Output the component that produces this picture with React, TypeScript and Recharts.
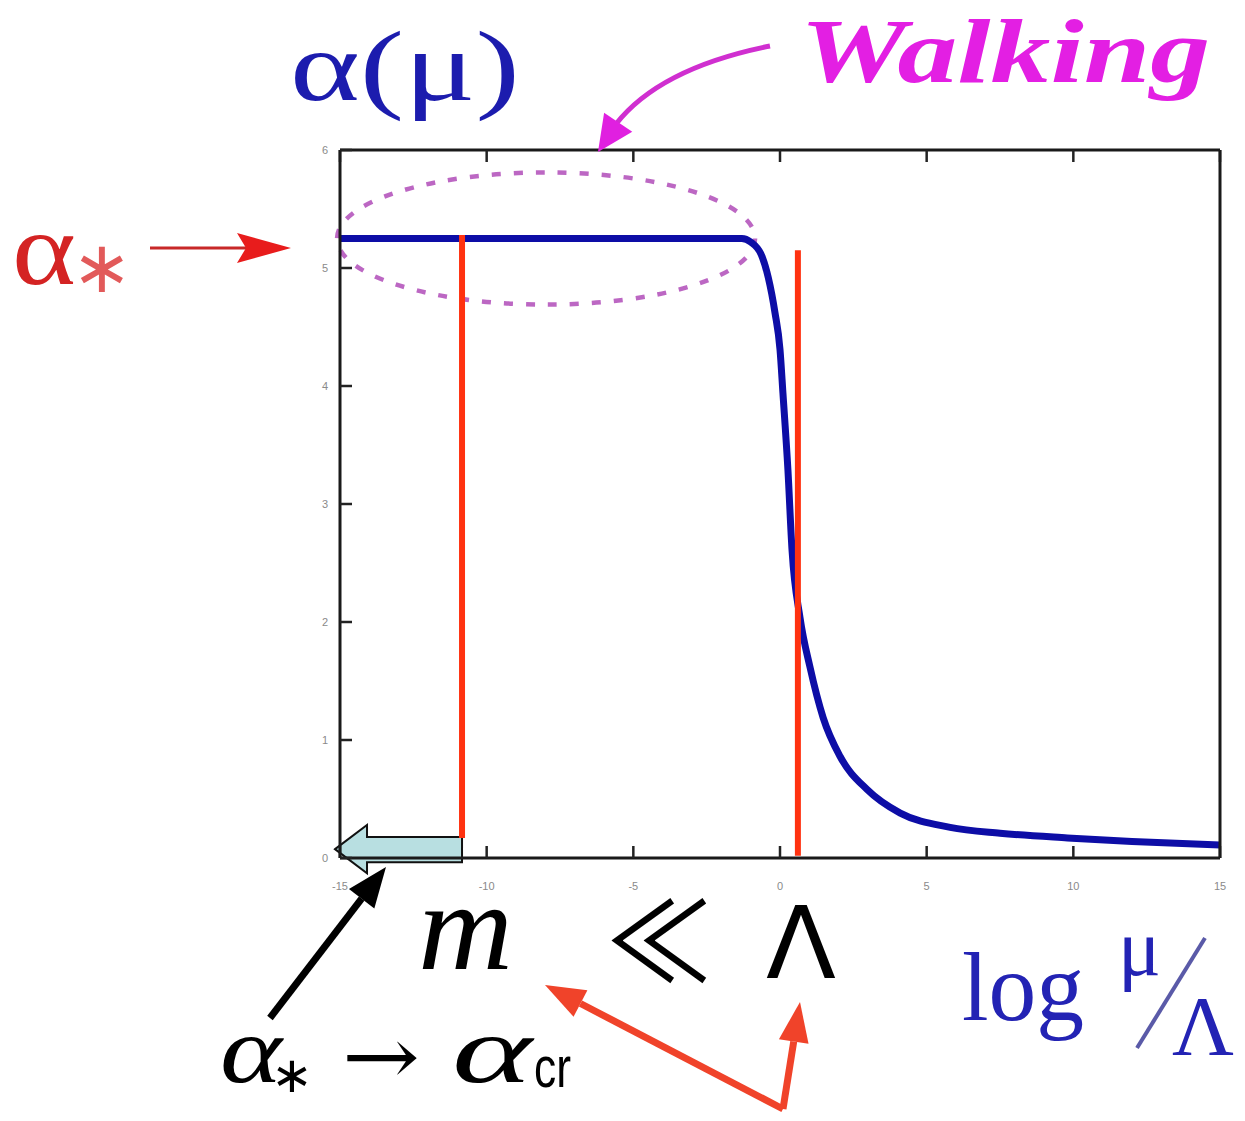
import { Line, LineChart, ReferenceArea, ReferenceLine, XAxis, YAxis } from 'recharts';

// running coupling vs log(mu/Lambda)
const logMu = [-15, -10, -5, -2, -1.3, -1.0, -0.6, -0.4, -0.17, 0, 0.1, 0.27, 0.41, 0.68, 1.02, 1.47, 2.05, 2.97, 4.1, 5.8, 7.5, 9.8, 12, 15];
const alphaMu = [5.25, 5.25, 5.25, 5.25, 5.25, 5.22, 5.09, 4.92, 4.62, 4.31, 3.94, 3.29, 2.61, 2.04, 1.62, 1.19, 0.86, 0.58, 0.38, 0.26, 0.21, 0.17, 0.14, 0.11];

const xTicks = [-15, -10, -5, 0, 5, 10, 15];
const yTicks = [0, 1, 2, 3, 4, 5, 6];

// the two scales: m and Lambda
const mScale = { x: -10.84, top: 5.28, bottom: 0.17 };
const lambdaScale = { x: 0.61, top: 5.15, bottom: 0.02 };

// walking region outline and the "alpha* -> alpha_cr" shift arrow
const walkingBox = { x1: -15.1, x2: -0.85, y1: 4.69, y2: 5.81 };
const shiftArrow = { x1: -15.17, x2: -10.84, y1: -0.13, y2: 0.28 };

const curve = logMu.map((x, i) => ({ x, alpha: alphaMu[i] }));

const W = 1245;
const H = 1121;

function headPoints(x0: number, y0: number, x1: number, y1: number, len: number, half: number) {
  const d = Math.hypot(x1 - x0, y1 - y0);
  const ux = (x1 - x0) / d;
  const uy = (y1 - y0) / d;
  const bx = x1 - ux * len;
  const by = y1 - uy * len;
  return {
    base: [bx, by],
    pts: `${x1},${y1} ${bx - uy * half},${by + ux * half} ${bx + uy * half},${by - ux * half}`,
  };
}

function Arrow({ from, to, color, width, len, half }: { from: number[]; to: number[]; color: string; width: number; len: number; half: number }) {
  const h = headPoints(from[0], from[1], to[0], to[1], len, half);
  return (
    <g>
      <line x1={from[0]} y1={from[1]} x2={h.base[0]} y2={h.base[1]} stroke={color} strokeWidth={width} />
      <polygon points={h.pts} fill={color} />
    </g>
  );
}

function EllipseShape(props: any) {
  const { x, y, width, height } = props;
  return (
    <ellipse
      cx={x + width / 2}
      cy={y + height / 2}
      rx={width / 2}
      ry={height / 2}
      fill="none"
      stroke="#b04cb8"
      strokeWidth={4.5}
      strokeDasharray="9 13"
      opacity={0.85}
    />
  );
}

function BlockArrowShape(props: any) {
  const { x, y, width, height } = props;
  const hl = 32;
  const pts = [
    [x, y + height / 2],
    [x + hl, y],
    [x + hl, y + height * 0.25],
    [x + width, y + height * 0.25],
    [x + width, y + height * 0.77],
    [x + hl, y + height * 0.77],
    [x + hl, y + height],
  ]
    .map((p) => p.join(','))
    .join(' ');
  return <polygon points={pts} fill="#b8dfe1" stroke="#111" strokeWidth={2} />;
}

// top and right frame axes: tick marks only, no labels
const NoLabel = () => <g />;

const tickStyle = { fill: '#8a8a8a', fontSize: 11, fontFamily: 'Liberation Sans' };
const axisLine = { stroke: '#1a1a1a', strokeWidth: 3 };
const tickLine = { stroke: '#222', strokeWidth: 2.5 };

export default function App() {
  return (
    <div style={{ position: 'absolute', left: 0, top: 0, width: W, height: H, background: '#fff' }}>
      <LineChart width={W} height={H} data={curve} margin={{ top: 149, right: 24, bottom: 262, left: 339 }}>
        <XAxis
          type="number"
          dataKey="x"
          domain={[-15, 15]}
          ticks={xTicks}
          interval={0}
          height={1}
          tickSize={-12}
          tickMargin={36}
          tick={tickStyle}
          axisLine={axisLine}
          tickLine={tickLine}
        />
        <XAxis
          xAxisId="top"
          orientation="top"
          type="number"
          dataKey="x"
          domain={[-15, 15]}
          ticks={xTicks}
          interval={0}
          height={1}
          tickSize={-12}
          tick={NoLabel}
          axisLine={axisLine}
          tickLine={tickLine}
        />
        <YAxis
          type="number"
          domain={[0, 6]}
          ticks={yTicks}
          interval={0}
          width={1}
          tickSize={-12}
          tickMargin={24}
          tick={tickStyle}
          axisLine={axisLine}
          tickLine={tickLine}
        />
        <YAxis
          yAxisId="right"
          orientation="right"
          type="number"
          domain={[0, 6]}
          ticks={yTicks}
          interval={0}
          width={1}
          tickSize={-12}
          tick={NoLabel}
          axisLine={axisLine}
          tickLine={tickLine}
        />
        <ReferenceArea
          x1={walkingBox.x1}
          x2={walkingBox.x2}
          y1={walkingBox.y1}
          y2={walkingBox.y2}
          ifOverflow="visible"
          shape={EllipseShape}
        />
        <Line
          type="monotone"
          dataKey="alpha"
          stroke="#0d0da6"
          strokeWidth={7}
          dot={false}
          isAnimationActive={false}
        />
        <ReferenceLine
          segment={[
            { x: mScale.x, y: mScale.top },
            { x: mScale.x, y: mScale.bottom },
          ]}
          stroke="#ff3210"
          strokeWidth={6}
          ifOverflow="visible"
        />
        <ReferenceLine
          segment={[
            { x: lambdaScale.x, y: lambdaScale.top },
            { x: lambdaScale.x, y: lambdaScale.bottom },
          ]}
          stroke="#ff3210"
          strokeWidth={6}
          ifOverflow="visible"
        />
        <ReferenceArea
          x1={shiftArrow.x1}
          x2={shiftArrow.x2}
          y1={shiftArrow.y1}
          y2={shiftArrow.y2}
          ifOverflow="visible"
          shape={BlockArrowShape}
        />
      </LineChart>

      <svg width={W} height={H} style={{ position: 'absolute', left: 0, top: 0, pointerEvents: 'none' }}>
        {/* axis titles */}
        <text x={290} y={100} fontSize={100} fontFamily="Liberation Serif" fill="#1c1cae" textLength={230} lengthAdjust="spacingAndGlyphs">
          α(μ)
        </text>
        <text x={962} y={1020} fontSize={98} fontFamily="Liberation Serif" fill="#2323b4" textLength={122} lengthAdjust="spacingAndGlyphs">
          log
        </text>
        <text x={1118} y={975} fontSize={80} fontFamily="Liberation Serif" fill="#2323b4">
          μ
        </text>
        <line x1={1137} y1={1048} x2={1205} y2={938} stroke="#5a5aa8" strokeWidth={4} />
        <text x={1172} y={1055} fontSize={84} fontFamily="Liberation Serif" fill="#2323b4" textLength={62} lengthAdjust="spacingAndGlyphs">
          Λ
        </text>

        {/* walking label */}
        <text
          x={800}
          y={82}
          fontSize={92}
          fontFamily="Liberation Serif"
          fontWeight="bold"
          fontStyle="italic"
          fill="#e31fe3"
          textLength={410}
          lengthAdjust="spacingAndGlyphs"
        >
          Walking
        </text>
        <path d="M 770 46 Q 660 68 616 124" fill="none" stroke="#d02fd0" strokeWidth={5} />
        <polygon points={headPoints(640, 90, 598, 152, 36, 17).pts} fill="#e020e0" />

        {/* alpha star marker */}
        <text x={12} y={284} fontSize={104} fontFamily="Liberation Serif" fill="#d42323" textLength={64} lengthAdjust="spacingAndGlyphs">
          α
        </text>
        <text x={102} y={292} fontSize={72} fontFamily="DejaVu Sans" fill="#e25a5a" textAnchor="middle">
          ∗
        </text>
        <line x1={150} y1={248} x2={246} y2={248} stroke="#c82828" strokeWidth={3} />
        <polygon points="237,233 291,248 237,263 246,248" fill="#e81c1c" />

        {/* m << Lambda */}
        <text x={418} y={969} fontSize={125} fontFamily="Liberation Serif" fontStyle="italic" fill="#000" textLength={95} lengthAdjust="spacingAndGlyphs">
          m
        </text>
        <text x={606} y={982} fontSize={110} fontFamily="Noto Sans CJK JP" fill="#000" textLength={106} lengthAdjust="spacingAndGlyphs">
          ≪
        </text>
        <text x={766} y={978} fontSize={100} fontFamily="DejaVu Sans" fill="#000" textLength={70} lengthAdjust="spacingAndGlyphs">
          Λ
        </text>

        {/* alpha* -> alpha_cr */}
        <text x={220} y={1082} fontSize={95} fontFamily="Liberation Serif" fontStyle="italic" fill="#000" textLength={62} lengthAdjust="spacingAndGlyphs">
          α
        </text>
        <text x={292} y={1092} fontSize={50} fontFamily="DejaVu Sans" fill="#000" textAnchor="middle">
          ∗
        </text>
        <text x={342} y={1084} fontSize={80} fontFamily="DejaVu Serif" fill="#000" textLength={78} lengthAdjust="spacingAndGlyphs">
          →
        </text>
        <text x={452} y={1082} fontSize={95} fontFamily="Liberation Serif" fontStyle="italic" fill="#000" textLength={80} lengthAdjust="spacingAndGlyphs">
          α
        </text>
        <text x={534} y={1087} fontSize={58} fontFamily="Liberation Sans" fill="#000" textLength={37} lengthAdjust="spacingAndGlyphs">
          cr
        </text>

        {/* pointer arrows */}
        <Arrow from={[270, 1018]} to={[386, 867]} color="#000" width={7} len={40} half={16} />
        <Arrow from={[783, 1109]} to={[545, 985]} color="#f0432a" width={7} len={40} half={15} />
        <Arrow from={[783, 1109]} to={[800, 1002]} color="#f0432a" width={7} len={40} half={15} />
      </svg>
    </div>
  );
}
